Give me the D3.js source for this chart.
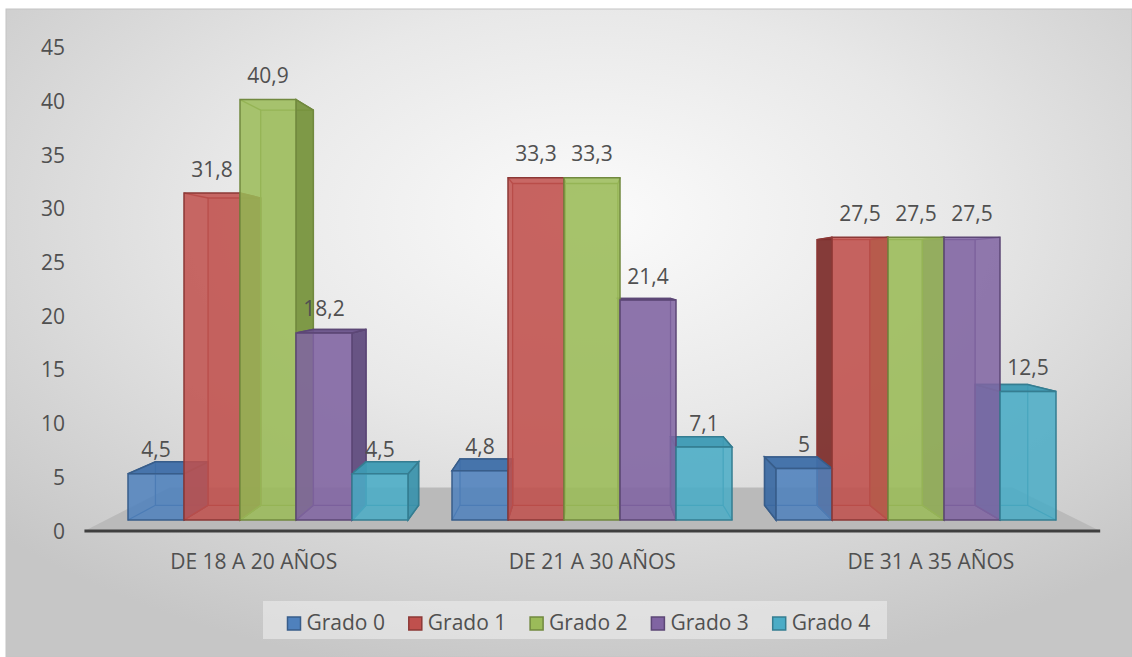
<!DOCTYPE html>
<html>
<head>
<meta charset="utf-8">
<script src="https://cdn.jsdelivr.net/npm/d3@7"></script>
<style>
  html, body { margin: 0; padding: 0; background: #ffffff; }
  svg { display: block; }
  text { font-family: "Open Sans", "DejaVu Sans", sans-serif; fill: #505050; }
</style>
</head>
<body>
<svg id="chart" width="1132" height="657"></svg>
<script>
// ---- data ----
const categories = ["DE 18 A 20 AÑOS", "DE 21 A 30 AÑOS", "DE 31 A 35 AÑOS"];
const seriesNames = ["Grado 0", "Grado 1", "Grado 2", "Grado 3", "Grado 4"];
const grado0 = [4.5, 4.8, 5];
const grado1 = [31.8, 33.3, 27.5];
const grado2 = [40.9, 33.3, 27.5];
const grado3 = [18.2, 21.4, 27.5];
const grado4 = [4.5, 7.1, 12.5];
const seriesValues = [grado0, grado1, grado2, grado3, grado4];
const yTicks = [0, 5, 10, 15, 20, 25, 30, 35, 40, 45];

// ---- palette ----
const fills   = ["#4f81bd", "#c0504d", "#9bbb59", "#8064a2", "#4bacc6"];
const strokes = ["#385d8a", "#8c3836", "#71893f", "#5c4776", "#357d91"];
const sides   = ["#3c6aa3", "#7d2f2d", "#76923c", "#5e4a7d", "#3b93ab"];
const tops    = ["#3f6fa9", "#a33f3c", "#86a64a", "#6b548c", "#3e9bb4"];

const svg = d3.select("#chart");
const W = 1132, H = 657;

// ---- background ----
const defs = svg.append("defs");
const bg = defs.append("radialGradient").attr("id", "bgGrad")
  .attr("cx", "52%").attr("cy", "32%").attr("r", "72%");
bg.append("stop").attr("offset", "0%").attr("stop-color", "#fbfbfb");
bg.append("stop").attr("offset", "45%").attr("stop-color", "#e8e8e8");
bg.append("stop").attr("offset", "100%").attr("stop-color", "#c6c6c6");

svg.append("rect").attr("x", 6).attr("y", 9).attr("width", W - 6).attr("height", H - 9)
  .attr("fill", "url(#bgGrad)").attr("stroke", "#c4c4c4").attr("stroke-width", 1);

// ---- perspective set-up ----
const vp = { x: 585, y: 275 };      // vanishing point
const sFloorFront = 1.045;          // depth scale of the floor's front edge
const sBarBack = 0.94;              // depth scale of the bars' back faces
const sFloorBack = 0.867;           // depth scale of the floor's back edge
const proj = (x, y, s) => [vp.x + s * (x - vp.x), vp.y + s * (y - vp.y)];

const x0 = d3.scaleBand().domain(categories).range([106, 1078]).padding(0);
const groupW = 280;
const x1 = d3.scaleBand().domain(seriesNames).range([0, groupW]).padding(0);
const y = d3.scaleLinear().domain([0, 45]).range([520, 57.4]);

// ---- floor ----
const fl = [
  proj(x0.range()[0], y(0), sFloorFront),
  proj(x0.range()[1], y(0), sFloorFront),
  proj(x0.range()[1], y(0), sFloorBack),
  proj(x0.range()[0], y(0), sFloorBack)
];
svg.append("polygon").attr("points", fl.map(p => p.join(",")).join(" "))
  .attr("fill", "#bababa");
svg.append("line")
  .attr("x1", fl[0][0]).attr("y1", fl[0][1]).attr("x2", fl[1][0]).attr("y2", fl[1][1])
  .attr("stroke", "#3f3f3f").attr("stroke-width", 3);

// ---- value axis labels ----
svg.append("g").selectAll("text").data(yTicks).join("text")
  .attr("x", 65)
  .attr("y", d => proj(0, y(d), sFloorFront)[1])
  .attr("dy", "0.36em")
  .attr("text-anchor", "end")
  .attr("font-size", 21)
  .text(d => d);

// ---- category labels ----
svg.append("g").selectAll("text").data(categories).join("text")
  .attr("x", d => proj(x0(d) + x0.bandwidth() / 2, y(0), sFloorFront)[0])
  .attr("y", 569)
  .attr("text-anchor", "middle")
  .attr("font-size", 21)
  .text(d => d);

// ---- bars as boxes ----
const bars = [];
categories.forEach((c, j) => {
  const gx = x0(c) + (x0.bandwidth() - groupW) / 2;
  seriesNames.forEach((s, i) => {
    const v = seriesValues[i][j];
    const xL = gx + x1(s), xR = xL + x1.bandwidth();
    bars.push({ i, j, v, xL, xR, yT: y(v), yB: y(0) });
  });
});
bars.forEach(b => { b.dist = Math.abs((b.xL + b.xR) / 2 - vp.x); });

const pts = arr => arr.map(p => p.join(",")).join(" ");
const corners = (b, s) => ({
  lt: proj(b.xL, b.yT, s), rt: proj(b.xR, b.yT, s),
  rb: proj(b.xR, b.yB, s), lb: proj(b.xL, b.yB, s)
});

const deep = svg.append("g");
bars.slice().sort((a, b) => b.dist - a.dist).forEach(b => {
  const F = corners(b, 1), B = corners(b, sBarBack);
  const g = deep.append("g");
  // back face and hidden edges
  g.append("polygon").attr("points", pts([B.lt, B.rt, B.rb, B.lb]))
    .attr("fill", fills[b.i]).attr("fill-opacity", 0.2)
    .attr("stroke", strokes[b.i]).attr("stroke-width", 1.3);
  ["lt", "rt", "rb", "lb"].forEach(k => {
    g.append("line").attr("x1", F[k][0]).attr("y1", F[k][1])
      .attr("x2", B[k][0]).attr("y2", B[k][1])
      .attr("stroke", strokes[b.i]).attr("stroke-width", 1.3);
  });
  // side faces that show outside the front face
  if (b.xR < vp.x) {
    g.append("polygon").attr("points", pts([F.rt, B.rt, B.rb, F.rb]))
      .attr("fill", sides[b.i]).attr("fill-opacity", 0.92)
      .attr("stroke", strokes[b.i]).attr("stroke-width", 1.5);
  }
  if (b.xL > vp.x) {
    g.append("polygon").attr("points", pts([F.lt, B.lt, B.lb, F.lb]))
      .attr("fill", sides[b.i]).attr("fill-opacity", 0.92)
      .attr("stroke", strokes[b.i]).attr("stroke-width", 1.5);
  }
  if (b.yT > vp.y) {
    g.append("polygon").attr("points", pts([F.lt, F.rt, B.rt, B.lt]))
      .attr("fill", tops[b.i]).attr("fill-opacity", 0.95)
      .attr("stroke", strokes[b.i]).attr("stroke-width", 1.5);
  }
});

// front faces, all in one plane
svg.append("g").selectAll("polygon").data(bars).join("polygon")
  .attr("points", b => { const F = corners(b, 1); return pts([F.lt, F.rt, F.rb, F.lb]); })
  .attr("fill", b => fills[b.i]).attr("fill-opacity", 0.86)
  .attr("stroke", b => strokes[b.i]).attr("stroke-width", 1.5);

// ---- value labels ----
svg.append("g").selectAll("text").data(bars).join("text")
  .attr("x", b => (b.xL + b.xR) / 2)
  .attr("y", b => b.yT - 16.5)
  .attr("text-anchor", "middle")
  .attr("font-size", 21)
  .text(b => String(b.v).replace(".", ","));

// ---- legend ----
svg.append("rect").attr("x", 263).attr("y", 601).attr("width", 624).attr("height", 38)
  .attr("fill", "#ededed").attr("fill-opacity", 0.6);
const leg = svg.append("g").selectAll("g").data(seriesNames).join("g")
  .attr("transform", (d, i) => `translate(${287.5 + i * 121.3},617)`);
leg.append("rect").attr("width", 13).attr("height", 13)
  .attr("fill", (d, i) => fills[i]).attr("stroke", (d, i) => strokes[i]).attr("stroke-width", 1.5);
leg.append("text").attr("x", 19).attr("y", 12.5).attr("font-size", 21).text(d => d);
</script>
</body>
</html>
